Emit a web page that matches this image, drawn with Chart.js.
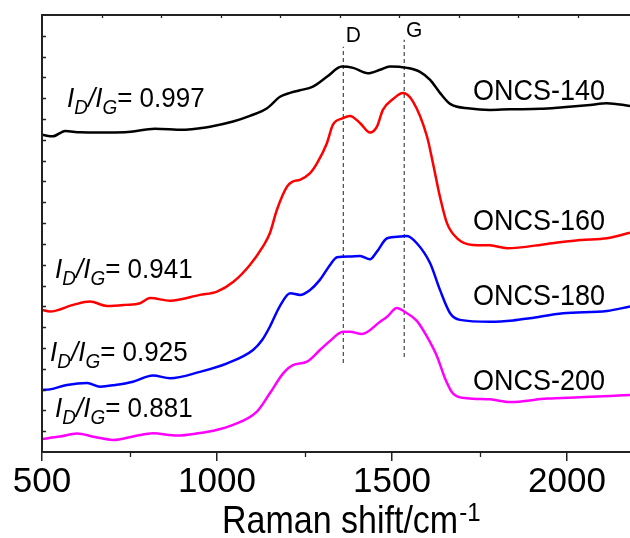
<!DOCTYPE html>
<html>
<head>
<meta charset="utf-8">
<script src="https://cdn.jsdelivr.net/npm/chart.js@4.4.0/dist/chart.umd.min.js"></script>
<style>
  html, body { margin: 0; padding: 0; background: #fff; }
  canvas { display: block; }
</style>
</head>
<body>
<canvas id="ramanChart" width="630" height="538"></canvas>
<script>
// Raman spectra, offset for clarity (intensity in a.u.)
var shift140 = [500, 531, 566, 609, 666, 737, 823, 903, 951, 980, 1046, 1094, 1143, 1180, 1209, 1237, 1274, 1314, 1357, 1389, 1431, 1466, 1494, 1543, 1580, 1609, 1637, 1666, 1723, 1780, 1837, 1923, 1989, 2066, 2114, 2180];
var int140 = [15.24, 15.17, 15.43, 15.36, 15.35, 15.36, 15.53, 15.48, 15.56, 15.63, 15.88, 16.15, 16.52, 17.07, 17.26, 17.38, 17.56, 18.03, 18.52, 18.46, 18.20, 18.37, 18.53, 18.46, 18.27, 17.88, 17.26, 16.73, 16.51, 16.44, 16.47, 16.49, 16.57, 16.68, 16.76, 16.63];

var shift160 = [500, 523, 589, 637, 686, 737, 780, 809, 866, 951, 1000, 1046, 1094, 1131, 1151, 1171, 1200, 1217, 1237, 1266, 1286, 1314, 1331, 1360, 1380, 1409, 1437, 1457, 1474, 1503, 1531, 1560, 1600, 1617, 1637, 1657, 1686, 1731, 1780, 1829, 1943, 2037, 2114, 2180];
var int160 = [6.83, 6.75, 7.07, 7.23, 7.02, 7.07, 7.15, 7.40, 7.27, 7.55, 7.71, 8.17, 8.99, 9.87, 10.51, 11.63, 12.75, 13.00, 13.08, 13.40, 13.88, 14.84, 15.72, 16.04, 16.15, 15.80, 15.35, 15.64, 16.44, 16.96, 17.25, 16.84, 15.16, 13.88, 12.27, 11.00, 10.27, 9.95, 9.93, 9.79, 10.00, 10.19, 10.27, 10.54];

var shift180 = [500, 523, 571, 629, 666, 709, 760, 817, 866, 951, 1029, 1103, 1129, 1151, 1180, 1209, 1237, 1266, 1294, 1323, 1343, 1380, 1409, 1437, 1457, 1486, 1523, 1543, 1571, 1609, 1637, 1666, 1694, 1780, 1846, 1894, 1989, 2114, 2180];
var int180 = [2.98, 3.01, 3.22, 3.32, 3.14, 3.22, 3.38, 3.68, 3.54, 3.85, 4.26, 4.90, 5.38, 6.02, 7.02, 7.63, 7.55, 7.79, 8.27, 8.99, 9.36, 9.40, 9.42, 9.26, 9.63, 10.27, 10.35, 10.38, 10.03, 9.07, 7.79, 6.67, 6.35, 6.26, 6.32, 6.43, 6.67, 6.78, 6.99];

var shift200 = [500, 551, 600, 651, 703, 766, 817, 886, 951, 989, 1046, 1114, 1151, 1189, 1217, 1257, 1294, 1323, 1360, 1380, 1414, 1466, 1486, 1514, 1537, 1571, 1600, 1629, 1651, 1674, 1714, 1780, 1837, 1943, 2037, 2123, 2180];
var int200 = [0.63, 0.74, 0.89, 0.72, 0.58, 0.77, 0.90, 0.79, 0.91, 1.02, 1.30, 1.94, 2.82, 3.78, 4.18, 4.34, 4.90, 5.34, 5.78, 5.78, 5.67, 6.26, 6.50, 6.92, 6.73, 6.30, 5.54, 4.58, 3.56, 2.82, 2.58, 2.53, 2.40, 2.57, 2.63, 2.69, 2.74];

var sampleNames = ["ONCS-140", "ONCS-160", "ONCS-180", "ONCS-200"];
var ratioValues = ["0.997", "0.941", "0.925", "0.881"];
var lineColors = ["#000000", "#ff0000", "#0000ff", "#ff00ff"];

var bandNames = ["D", "G"];
var bandShifts = [1361, 1535];

var xTicks = [500, 1000, 1500, 2000];
var xMinorTicks = [750, 1250, 1750];
var topTicks = [670, 840, 1010, 1180, 1350, 1520, 1690, 1860, 2030];

var FONT = '"Liberation Sans", Arial, sans-serif';

function toPoints(xs, ys) {
  return xs.map(function (x, i) { return { x: x, y: ys[i] }; });
}

var spectra = [
  toPoints(shift140, int140),
  toPoints(shift160, int160),
  toPoints(shift180, int180),
  toPoints(shift200, int200)
];

var datasets = spectra.map(function (pts, i) {
  return {
    label: sampleNames[i],
    data: pts,
    borderColor: lineColors[i],
    borderWidth: 2.5,
    pointRadius: 0,
    cubicInterpolationMode: 'monotone',
    fill: false,
    order: 1
  };
});

// dashed guide lines for D and G bands
var bandSpan = [[4.28, 19.47], [4.57, 19.81]];
bandShifts.forEach(function (s, i) {
  datasets.push({
    label: bandNames[i],
    data: [{ x: s, y: bandSpan[i][0] }, { x: s, y: bandSpan[i][1] }],
    borderColor: '#555555',
    borderWidth: 1.3,
    borderDash: [4, 3],
    pointRadius: 0,
    fill: false,
    order: 5
  });
});

// text slightly taller than wide, like the original figure
function tallText(ctx, text, x, y, sy) {
  ctx.save();
  ctx.translate(x, y);
  ctx.scale(1, sy);
  ctx.fillText(text, 0, 0);
  ctx.restore();
}

function drawRatio(ctx, x, base, value) {
  var big = 'italic 26px ' + FONT, small = 'italic 19px ' + FONT, k = 1.08;
  ctx.font = big; tallText(ctx, 'I', x, base, k); x += ctx.measureText('I').width;
  ctx.font = small; tallText(ctx, 'D', x, base + 7, k); x += ctx.measureText('D').width;
  ctx.font = big; tallText(ctx, '/', x, base, k); x += ctx.measureText('/').width;
  tallText(ctx, 'I', x, base, k); x += ctx.measureText('I').width;
  ctx.font = small; tallText(ctx, 'G', x, base + 7, k); x += ctx.measureText('G').width;
  ctx.font = '26px ' + FONT; tallText(ctx, '= ' + value, x, base, k);
}

var decor = {
  id: 'decor',
  afterDraw: function (chart) {
    var ctx = chart.ctx, a = chart.chartArea;
    var xs = chart.scales.x, ys = chart.scales.y;
    ctx.save();

    // left and top frame
    ctx.strokeStyle = '#222';
    ctx.lineWidth = 2;
    ctx.beginPath();
    ctx.moveTo(a.left, a.bottom);
    ctx.lineTo(a.left, a.top);
    ctx.lineTo(a.right, a.top);
    ctx.stroke();

    ctx.lineWidth = 1.3;
    ctx.beginPath();
    for (var v = 1; v < 21; v++) {
      var py = Math.round(ys.getPixelForValue(v)) + 0.5;
      ctx.moveTo(a.left, py);
      ctx.lineTo(a.left + 4, py);
    }
    topTicks.forEach(function (t) {
      var px = Math.round(xs.getPixelForValue(t)) + 0.5;
      ctx.moveTo(px, a.top);
      ctx.lineTo(px, a.top + 3);
    });
    xMinorTicks.forEach(function (t) {
      var px = Math.round(xs.getPixelForValue(t)) + 0.5;
      ctx.moveTo(px, a.bottom);
      ctx.lineTo(px, a.bottom + 5);
    });
    ctx.stroke();

    ctx.fillStyle = '#000';
    ctx.textBaseline = 'alphabetic';

    // band labels
    ctx.font = '21px ' + FONT;
    ctx.textAlign = 'center';
    var bandBase = [42, 37];
    bandShifts.forEach(function (s, i) {
      tallText(ctx, bandNames[i], xs.getPixelForValue(s) + 10, bandBase[i], 1.05);
    });

    // sample names
    ctx.textAlign = 'left';
    ctx.font = '27px ' + FONT;
    var nameBase = [100, 230, 305, 390];
    sampleNames.forEach(function (n, i) {
      tallText(ctx, n, 473, nameBase[i], 1.08);
    });

    // ID/IG ratios
    var ratioPos = [[67, 107], [55, 278], [50, 361], [55, 417]];
    ratioValues.forEach(function (r, i) {
      drawRatio(ctx, ratioPos[i][0], ratioPos[i][1], r);
    });

    // axis title with superscript
    ctx.font = '34px ' + FONT;
    var t = 'Raman shift/cm';
    tallText(ctx, t, 222, 533, 1.15);
    var w = ctx.measureText(t).width;
    ctx.font = '24px ' + FONT;
    tallText(ctx, '-1', 222 + w + 1, 521, 1.1);

    ctx.restore();
  }
};

new Chart(document.getElementById('ramanChart'), {
  type: 'line',
  data: { datasets: datasets },
  plugins: [decor],
  options: {
    responsive: false,
    animation: false,
    devicePixelRatio: 1,
    layout: { padding: { left: 42, top: 15, right: 0, bottom: 35 } },
    plugins: {
      legend: { display: false },
      tooltip: { enabled: false }
    },
    scales: {
      x: {
        type: 'linear',
        position: 'bottom',
        min: 500,
        max: 2180,
        afterBuildTicks: function (scale) {
          scale.ticks = xTicks.map(function (v) { return { value: v }; });
        },
        grid: {
          drawOnChartArea: false,
          drawTicks: true,
          tickLength: 9,
          color: '#222',
          lineWidth: 1.5
        },
        border: { display: true, color: '#222', width: 2 },
        ticks: {
          color: '#000',
          padding: 0,
          maxRotation: 0,
          autoSkip: false,
          font: { family: FONT, size: 35 },
          callback: function (v) { return String(v); }
        }
      },
      y: {
        display: false,
        min: 0,
        max: 21
      }
    }
  }
});
</script>
</body>
</html>
